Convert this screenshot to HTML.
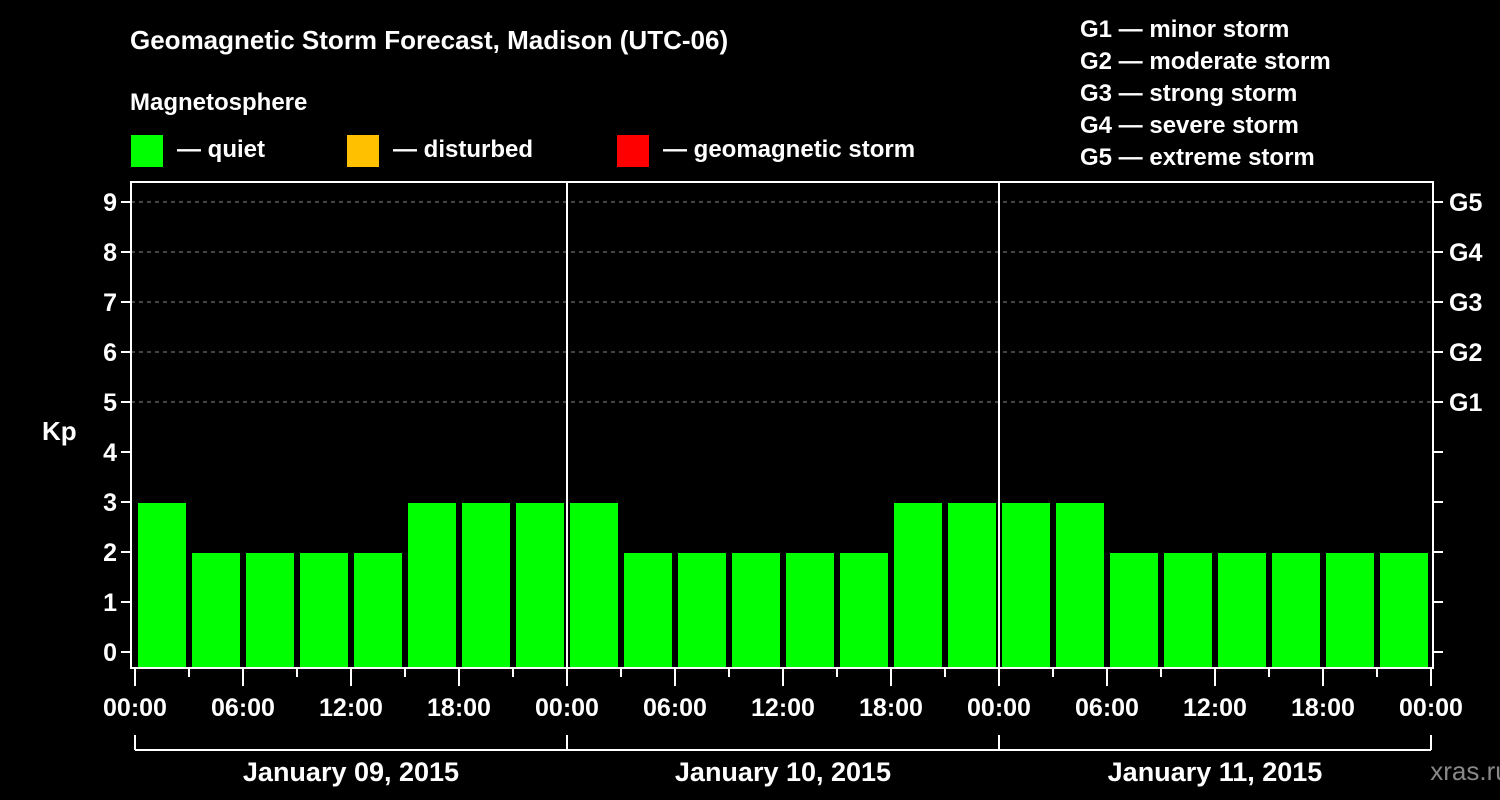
<!DOCTYPE html>
<html><head><meta charset="utf-8"><style>
body{margin:0;background:#000;}
svg{display:block;font-family:"Liberation Sans",sans-serif;font-weight:bold;}
</style></head><body>
<svg width="1500" height="800" viewBox="0 0 1500 800" id="c">
<text x="130" y="49" fill="#fff" font-size="26">Geomagnetic Storm Forecast, Madison (UTC-06)</text>
<text x="130" y="110" fill="#fff" font-size="24">Magnetosphere</text>
<g><rect x="131" y="135" width="32" height="32" fill="#00ff00"/><text x="177" y="157" fill="#fff" font-size="24">— quiet</text></g>
<g><rect x="347" y="135" width="32" height="32" fill="#ffc000"/><text x="393" y="157" fill="#fff" font-size="24">— disturbed</text></g>
<g><rect x="617" y="135" width="32" height="32" fill="#ff0000"/><text x="663" y="157" fill="#fff" font-size="24">— geomagnetic storm</text></g>
<g fill="#fff" font-size="24">
<text x="1080" y="37">G1 — minor storm</text>
<text x="1080" y="69">G2 — moderate storm</text>
<text x="1080" y="101">G3 — strong storm</text>
<text x="1080" y="133">G4 — severe storm</text>
<text x="1080" y="165">G5 — extreme storm</text>
</g>
<text x="42" y="440" fill="#fff" font-size="26">Kp</text>
<text x="1470" y="780" fill="#888" font-size="26" text-anchor="middle" font-weight="normal">xras.ru</text>
<g id="grid"></g><g id="bars"></g><g id="axes"></g>
</svg>
<script>
const kpValues=[3,2,2,2,2,3,3,3, 3,2,2,2,2,2,3,3, 3,3,2,2,2,2,2,2];
const dayLabels=["January 09, 2015","January 10, 2015","January 11, 2015"];
const hourLabels=["00:00","06:00","12:00","18:00"];
const gLabels=["G1","G2","G3","G4","G5"];
const NS="http://www.w3.org/2000/svg";
const X0=135,HOUR=18,Y0=652,UNIT=50,TOP=182,BOT=668,L=131,R=1433;
const xs=h=>X0+h*HOUR, ys=v=>Y0-v*UNIT;
function mk(tag,attrs,parent,txt){const e=document.createElementNS(NS,tag);for(const k in attrs)e.setAttribute(k,attrs[k]);if(txt!==undefined)e.textContent=txt;parent.appendChild(e);return e;}
const grid=document.getElementById('grid'),bars=document.getElementById('bars'),axes=document.getElementById('axes');
for(let v=5;v<=9;v++){const l=mk('line',{x1:L,x2:R,y1:ys(v),y2:ys(v),stroke:'#888','stroke-dasharray':'4,4','stroke-width':1},grid);
}
kpValues.forEach((v,i)=>{const c=v>=5?'#ff0000':(v>=4?'#ffc000':'#00ff00');
const r=mk('rect',{x:xs(i*3)+3,y:ys(v)+1,width:48,height:BOT-1-(ys(v)+1),fill:c},bars);
});
mk('rect',{x:L,y:TOP,width:R-L,height:BOT-TOP,fill:'none',stroke:'#fff','stroke-width':2},axes);
for(let d=1;d<dayLabels.length;d++){const l=mk('line',{x1:xs(d*24),x2:xs(d*24),y1:TOP,y2:BOT,stroke:'#fff','stroke-width':2},axes);
}
for(let v=0;v<=9;v++){mk('line',{x1:L-10,x2:L,y1:ys(v),y2:ys(v),stroke:'#fff','stroke-width':2},axes);
mk('line',{x1:R,x2:R+10,y1:ys(v),y2:ys(v),stroke:'#fff','stroke-width':2},axes);
const t=mk('text',{x:L-14,y:ys(v)+9,fill:'#fff','font-size':25,'text-anchor':'end'},axes,String(v));
}
gLabels.forEach((g,i)=>{const t=mk('text',{x:1449,y:ys(5+i)+9,fill:'#fff','font-size':25},axes,g);
});
for(let h=0;h<=72;h+=3){const major=h%6===0;mk('line',{x1:xs(h),x2:xs(h),y1:BOT,y2:BOT+(major?18:9),stroke:'#fff','stroke-width':2},axes);
if(major){const t=mk('text',{x:xs(h),y:716,fill:'#fff','font-size':25,'text-anchor':'middle'},axes,hourLabels[(h/6)%4]);
}}
mk('line',{x1:xs(0),x2:xs(72),y1:750,y2:750,stroke:'#fff','stroke-width':2},axes);
dayLabels.forEach((d,i)=>{mk('line',{x1:xs(i*24),x2:xs(i*24),y1:735,y2:750,stroke:'#fff','stroke-width':2},axes);
const t=mk('text',{x:xs(i*24+12),y:781,fill:'#fff','font-size':27,'text-anchor':'middle'},axes,d);
});
mk('line',{x1:xs(72),x2:xs(72),y1:735,y2:750,stroke:'#fff','stroke-width':2},axes);
</script>
</body></html>
